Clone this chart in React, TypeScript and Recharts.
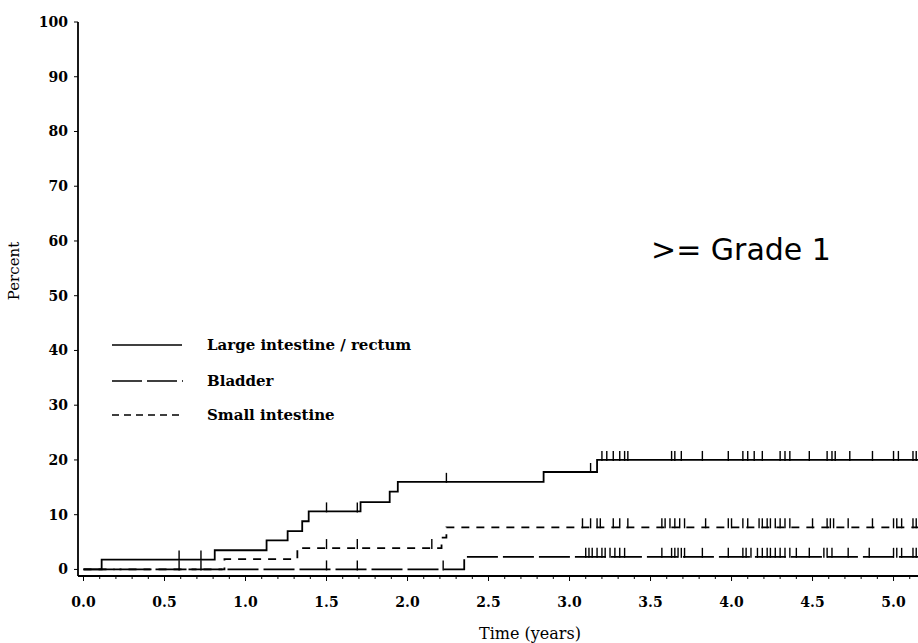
import React from 'react';
import { ComposedChart, Line, Scatter, XAxis, YAxis } from 'recharts';

// cumulative incidence (%) steps: time of event -> new level
const largeTimes = [0, 0.112, 0.81, 1.13, 1.26, 1.35, 1.39, 1.71, 1.89, 1.94, 2.84, 3.17, 5.151];
const largePct = [0, 1.8, 3.5, 5.3, 7.0, 8.8, 10.6, 12.3, 14.2, 16.0, 17.8, 20.0, 20.0];

const bladderTimes = [0, 2.35, 5.151];
const bladderPct = [0, 2.3, 2.3];

const smallTimes = [0, 0.87, 1.32, 2.21, 2.24, 5.151];
const smallPct = [0, 1.9, 3.9, 5.8, 7.7, 7.7];

// censoring times
const largeCensor = [
  0.59, 0.725, 1.5, 1.69, 2.24, 3.13, 3.2, 3.23, 3.27, 3.31, 3.34, 3.36, 3.63, 3.65, 3.69, 3.82,
  3.98, 4.07, 4.1, 4.14, 4.19, 4.3, 4.33, 4.36, 4.48, 4.59, 4.62, 4.64, 4.73, 4.87, 5.0, 5.03,
  5.12, 5.14,
];
const bladderCensor = [
  0.59, 0.725, 1.5, 1.69, 2.22, 3.1, 3.12, 3.14, 3.17, 3.2, 3.22, 3.25, 3.28, 3.31, 3.34, 3.57,
  3.63, 3.65, 3.67, 3.69, 3.71, 3.82, 3.98, 4.07, 4.09, 4.12, 4.16, 4.19, 4.22, 4.24, 4.27, 4.3,
  4.33, 4.36, 4.4, 4.48, 4.57, 4.59, 4.62, 4.72, 4.85, 5.0, 5.02, 5.05, 5.12, 5.14,
];
const smallCensor = [
  1.5, 1.69, 2.15, 3.08, 3.13, 3.17, 3.19, 3.27, 3.31, 3.36, 3.57, 3.59, 3.62, 3.65, 3.68, 3.71,
  3.84, 3.98, 4.0, 4.07, 4.1, 4.17, 4.19, 4.22, 4.24, 4.27, 4.3, 4.33, 4.36, 4.5, 4.59, 4.61,
  4.63, 4.72, 4.87, 5.0, 5.02, 5.05, 5.12, 5.14,
];

const yTicks = [0, 10, 20, 30, 40, 50, 60, 70, 80, 90, 100];
const xMajorTicks = [0, 0.5, 1, 1.5, 2, 2.5, 3, 3.5, 4, 4.5, 5];
const xTickLabels = ['0.0', '0.5', '1.0', '1.5', '2.0', '2.5', '3.0', '3.5', '4.0', '4.5', '5.0'];
const xMinorTicks = Array.from({ length: 52 }, (_, i) => i / 10);

const serif = '"DejaVu Serif", serif';

const levelAt = (times: number[], pcts: number[], t: number) => {
  let v = pcts[0];
  times.forEach((tm, i) => {
    if (tm <= t) v = pcts[i];
  });
  return v;
};

const toSteps = (times: number[], pcts: number[]) => times.map((x, i) => ({ x, y: pcts[i] }));
const toCensors = (cens: number[], times: number[], pcts: number[]) =>
  cens.map((x) => ({ x, y: levelAt(times, pcts, x) }));

const largeData = toSteps(largeTimes, largePct);
const bladderData = toSteps(bladderTimes, bladderPct);
const smallData = toSteps(smallTimes, smallPct);

const CensorMark = (props: any) => {
  const { cx, cy } = props;
  if (cx == null || cy == null) return <g />;
  return <line x1={cx} x2={cx} y1={cy + 1} y2={cy - 9} stroke="#000" strokeWidth={1.4} />;
};

const XTick = (props: any) => {
  const { x, y, payload } = props;
  const idx = xMajorTicks.findIndex((m) => Math.abs(m - payload.value) < 1e-6);
  const major = idx >= 0;
  return (
    <g>
      <line x1={x} x2={x} y1={y} y2={y + (major ? 5 : 3)} stroke="#000" strokeWidth={1} />
      {major && (
        <text x={x} y={y + 31} textAnchor="middle" fontFamily={serif} fontWeight="bold" fontSize={14} fill="#000">
          {xTickLabels[idx]}
        </text>
      )}
    </g>
  );
};

const App: React.FC = () => {
  return (
    <div style={{ position: 'absolute', left: 0, top: 0, width: 918, height: 643, background: '#fff' }}>
      <ComposedChart width={918} height={643} margin={{ top: 22, right: 0, bottom: 0, left: 0 }}>
        <XAxis
          type="number"
          dataKey="x"
          domain={[-0.034, 5.151]}
          allowDataOverflow
          ticks={xMinorTicks.filter((t) => t <= 5.1)}
          interval={0}
          tickSize={0}
          tickMargin={0}
          tick={<XTick />}
          tickLine={false}
          axisLine={{ stroke: '#000', strokeWidth: 1.8 }}
          height={67}
        />
        <YAxis
          type="number"
          domain={[-1.2, 100]}
          allowDataOverflow
          ticks={yTicks}
          interval={0}
          width={78}
          tickSize={4}
          tickMargin={6}
          tickLine={{ stroke: '#000' }}
          axisLine={{ stroke: '#000', strokeWidth: 1.8 }}
          tick={{ fill: '#000', fontFamily: serif, fontWeight: 'bold', fontSize: 14 }}
        />
        <Line
          data={bladderData}
          dataKey="y"
          type="stepAfter"
          stroke="#000"
          strokeWidth={1.8}
          strokeDasharray="31 5"
          dot={false}
          isAnimationActive={false}
        />
        <Line
          data={smallData}
          dataKey="y"
          type="stepAfter"
          stroke="#000"
          strokeWidth={1.8}
          strokeDasharray="8 7"
          dot={false}
          isAnimationActive={false}
        />
        <Line
          data={largeData}
          dataKey="y"
          type="stepAfter"
          stroke="#000"
          strokeWidth={1.8}
          dot={false}
          isAnimationActive={false}
        />
        <Scatter data={toCensors(bladderCensor, bladderTimes, bladderPct)} dataKey="y" shape={CensorMark} isAnimationActive={false} />
        <Scatter data={toCensors(smallCensor, smallTimes, smallPct)} dataKey="y" shape={CensorMark} isAnimationActive={false} />
        <Scatter data={toCensors(largeCensor, largeTimes, largePct)} dataKey="y" shape={CensorMark} isAnimationActive={false} />
      </ComposedChart>

      <svg width={918} height={643} style={{ position: 'absolute', left: 0, top: 0, pointerEvents: 'none' }}>
        <text x={19} y={271} transform="rotate(-90 19 271)" textAnchor="middle" fontFamily={serif} fontSize={15} fill="#000">
          Percent
        </text>
        <text x={530} y={639} textAnchor="middle" fontFamily={serif} fontSize={16} fill="#000">
          Time (years)
        </text>
        <text x={651} y={260} fontFamily='"DejaVu Sans", sans-serif' fontSize={30} fill="#000">
          {'>= Grade 1'}
        </text>
        <g fontFamily={serif} fontWeight="bold" fontSize={15} fill="#000">
          <line x1={112} x2={182} y1={345} y2={345} stroke="#000" strokeWidth={1.6} />
          <text x={207} y={350}>Large intestine / rectum</text>
          <line x1={112} x2={183} y1={381} y2={381} stroke="#000" strokeWidth={1.6} strokeDasharray="30 5" />
          <text x={207} y={386}>Bladder</text>
          <line x1={112} x2={182} y1={415} y2={415} stroke="#000" strokeWidth={1.6} strokeDasharray="7 5" />
          <text x={207} y={420}>Small intestine</text>
        </g>
      </svg>
    </div>
  );
};

export default App;
